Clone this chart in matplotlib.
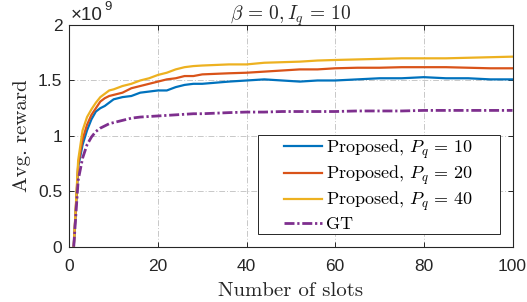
import numpy as np
import matplotlib
matplotlib.use("Agg")
import matplotlib.pyplot as plt
from matplotlib.legend_handler import HandlerLine2D

plt.rcParams['mathtext.fontset'] = 'cm'
plt.rcParams['font.family'] = ['Liberation Sans', 'DejaVu Sans']
plt.rcParams['axes.unicode_minus'] = False

# slot index (reward in units of 1e9)
slots = [1, 2, 3, 4, 5, 6, 7, 8, 9, 10, 12, 14, 16, 18, 20, 22, 24, 26, 28, 30,
         33, 36, 40, 44, 48, 52, 56, 60, 65, 70, 75, 80, 85, 90, 95, 100]

reward_p10 = [0, 0.72, 0.92, 1.05, 1.15, 1.22, 1.25, 1.27, 1.30, 1.33, 1.35, 1.36,
              1.39, 1.40, 1.41, 1.41, 1.44, 1.46, 1.47, 1.47, 1.48, 1.49, 1.50, 1.51,
              1.50, 1.49, 1.50, 1.50, 1.51, 1.52, 1.52, 1.53, 1.52, 1.52, 1.51, 1.51]
reward_p20 = [0, 0.74, 0.97, 1.10, 1.19, 1.25, 1.31, 1.34, 1.36, 1.37, 1.39, 1.43,
              1.45, 1.47, 1.49, 1.51, 1.52, 1.54, 1.54, 1.555, 1.56, 1.565, 1.57, 1.58,
              1.59, 1.60, 1.60, 1.61, 1.615, 1.615, 1.62, 1.62, 1.62, 1.615, 1.61, 1.61]
reward_p40 = [0, 0.78, 1.05, 1.17, 1.24, 1.30, 1.35, 1.38, 1.41, 1.42, 1.45, 1.47,
              1.50, 1.52, 1.55, 1.57, 1.60, 1.62, 1.63, 1.635, 1.64, 1.645, 1.645, 1.66,
              1.665, 1.67, 1.68, 1.685, 1.69, 1.695, 1.70, 1.70, 1.70, 1.705, 1.71, 1.715]
reward_gt = [0, 0.60, 0.80, 0.92, 0.99, 1.04, 1.07, 1.09, 1.11, 1.12, 1.14, 1.16,
             1.17, 1.175, 1.18, 1.185, 1.19, 1.195, 1.20, 1.20, 1.205, 1.21, 1.215, 1.215,
             1.22, 1.22, 1.22, 1.22, 1.225, 1.225, 1.225, 1.23, 1.23, 1.23, 1.23, 1.23]

x_ticks = [0, 20, 40, 60, 80, 100]
y_ticks = [0, 0.5, 1, 1.5, 2]
y_tick_labels = ["0", "0.5", "1", "1.5", "2"]

SERIF = 'cmr10'
DARK = '#262626'


class ShortLine(HandlerLine2D):
    # MATLAB style legend: line sits at the right part of the handle box
    def create_artists(self, legend, orig_handle, xdescent, ydescent, width, height, fontsize, trans):
        arts = super().create_artists(legend, orig_handle, xdescent, ydescent, width, height, fontsize, trans)
        y = arts[0].get_ydata()[0]
        arts[0].set_data([-xdescent + 0.38 * width, -xdescent + width], [y, y])
        return arts


fig = plt.figure(figsize=(5.27, 3.02), dpi=100)
ax = fig.add_axes([0.1315, 0.183, 0.841, 0.734])

ax.plot(slots, reward_p10, color='#0072BD', lw=1.6, label=r'Proposed, $P_q\,=\,10$')
ax.plot(slots, reward_p20, color='#D95319', lw=1.6, label=r'Proposed, $P_q\,=\,20$')
ax.plot(slots, reward_p40, color='#EDB120', lw=1.6, label=r'Proposed, $P_q\,=\,40$')
ax.plot(slots, reward_gt, color='#7E2F8E', lw=2.0, linestyle=(0, (3.6, 1.0, 0.8, 1.0)),
        label='GT')

ax.set_xlim(0, 100)
ax.set_ylim(0, 2)
ax.set_xticks(x_ticks)
ax.set_yticks(y_ticks)
ax.set_yticklabels(y_tick_labels)
ax.tick_params(direction='in', top=True, right=True, length=3.5, width=0.7,
               labelsize=12.5, colors=DARK)
ax.tick_params(axis='x', pad=9)
ax.tick_params(axis='y', pad=5)
for sp in ax.spines.values():
    sp.set_linewidth(0.8)
    sp.set_color(DARK)
ax.grid(True, linestyle=(0, (6, 2, 1, 2)), color='#c8c8c8', lw=0.7)
ax.set_axisbelow(True)

ax.set_xlabel('Number of slots', fontsize=15, family=SERIF, labelpad=6, color=DARK)
ax.set_ylabel('Avg. reward', fontsize=15, family=SERIF, labelpad=5, color=DARK)
ax.set_title(r'$\beta\,=\,0, I_q\,=\,10$', fontsize=14, pad=4, color=DARK)

ax.text(0.004, 1.0226, '×10', transform=ax.transAxes, fontsize=13.5, color=DARK,
        ha='left', va='baseline')
ax.text(0.080, 1.068, '9', transform=ax.transAxes, fontsize=9.5, color=DARK,
        ha='left', va='baseline')

leg = ax.legend(loc='lower left', bbox_to_anchor=(0.425, 0.056, 0.547, 0.43),
                mode='expand', prop={'family': SERIF, 'size': 13},
                frameon=True, fancybox=False,
                edgecolor=DARK, framealpha=1, borderpad=0.12, labelspacing=0.17,
                handlelength=3.45, handletextpad=0.22, borderaxespad=0,
                handler_map={plt.Line2D: ShortLine()})
leg.get_frame().set_linewidth(0.7)

fig.savefig('out.png', dpi=100)
